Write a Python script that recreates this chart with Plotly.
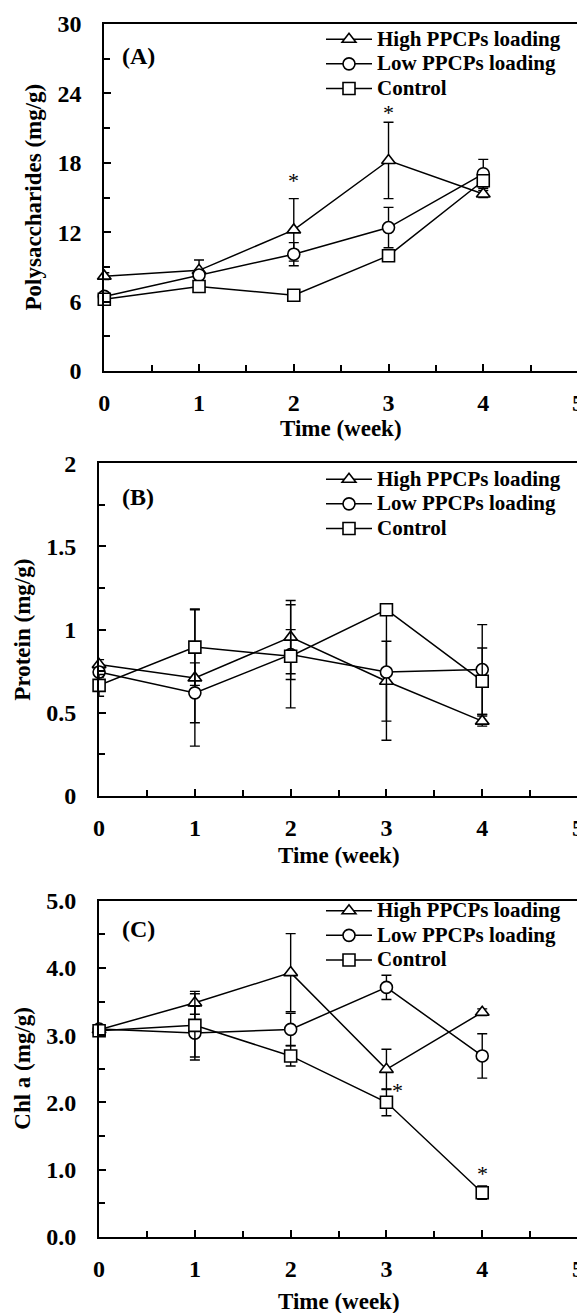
import plotly.graph_objects as go

# ---------------- data ----------------
weeks = [0, 1, 2, 3, 4]
series_names = ["High PPCPs loading", "Low PPCPs loading", "Control"]
series_symbols = ["triangle-up", "circle", "square"]

# (A) Polysaccharides (mg/g)
poly_high = [8.2, 8.7, 12.2, 18.2, 15.3]
poly_high_err = [0.3, 0.9, 2.7, 3.3, 0.3]
poly_low = [6.45, 8.3, 10.1, 12.4, 17.05]
poly_low_err = [0.3, 0.4, 1.0, 1.75, 1.25]
poly_ctrl = [6.2, 7.3, 6.55, 9.97, 16.45]
poly_ctrl_err = [0.3, 0.3, 0.3, 0.4, 0.5]
poly_star_x = [2, 3]
poly_star_y = [16.8, 22.7]

# (B) Protein (mg/g)
prot_high = [0.79, 0.71, 0.955, 0.69, 0.45]
prot_high_err = [0.03, 0.41, 0.22, 0.24, 0.03]
prot_low = [0.745, 0.62, 0.85, 0.745, 0.76]
prot_low_err = [0.03, 0.18, 0.15, 0.41, 0.27]
prot_ctrl = [0.665, 0.895, 0.84, 1.12, 0.69]
prot_ctrl_err = [0.065, 0.23, 0.31, 0.03, 0.2]

# (C) Chl a (mg/g)
chl_high = [3.08, 3.48, 3.93, 2.49, 3.34]
chl_high_err = [0.05, 0.17, 0.58, 0.3, 0.05]
chl_low = [3.09, 3.03, 3.085, 3.71, 2.69]
chl_low_err = [0.05, 0.40, 0.24, 0.18, 0.33]
chl_ctrl = [3.065, 3.145, 2.69, 2.0, 0.655]
chl_ctrl_err = [0.05, 0.47, 0.15, 0.2, 0.1]
chl_star_x = [3.12, 4]
chl_star_y = [2.23, 1.0]

x_ticks = [0, 1, 2, 3, 4, 5]
poly_ticks = [0, 6, 12, 18, 24, 30]
prot_ticks = [0, 0.5, 1, 1.5, 2]
prot_tick_text = ["0", "0.5", "1", "1.5", "2"]
chl_ticks = [0, 1, 2, 3, 4, 5]
chl_tick_text = ["0.0", "1.0", "2.0", "3.0", "4.0", "5.0"]

# ---------------- layout helpers ----------------
# the page body has an 8px margin, so the figure starts at (8, 8) in the window
OFF = 8
W, H = 585 - OFF, 1313 - OFF
FONT = "Liberation Serif, Times New Roman, serif"

def px_x(p):
    return (p - OFF) / W

def px_y(p):
    return 1 - (p - OFF) / H

panels = [
    dict(name="A", ylabel="Polysaccharides (mg/g)", yr=[0, 30], yt=poly_ticks,
         ytt=[str(v) for v in poly_ticks], ydtick_minor=3,
         vals=[poly_high, poly_low, poly_ctrl], errs=[poly_high_err, poly_low_err, poly_ctrl_err],
         left=104.3, right=578, top=24, bottom=371,
         stars=(poly_star_x, poly_star_y), ylab_x=33, xlab_y=428, leg_top=22, lab_y=56),
    dict(name="B", ylabel="Protein (mg/g)", yr=[0, 2], yt=prot_ticks,
         ytt=prot_tick_text, ydtick_minor=0.25,
         vals=[prot_high, prot_low, prot_ctrl], errs=[prot_high_err, prot_low_err, prot_ctrl_err],
         left=99.1, right=578, top=463.3, bottom=796,
         stars=([], []), ylab_x=23, xlab_y=855, leg_top=462, lab_y=497),
    dict(name="C", ylabel="Chl a (mg/g)", yr=[0, 5], yt=chl_ticks,
         ytt=chl_tick_text, ydtick_minor=0.5,
         vals=[chl_high, chl_low, chl_ctrl], errs=[chl_high_err, chl_low_err, chl_ctrl_err],
         left=99.1, right=578, top=900.7, bottom=1236.7,
         stars=(chl_star_x, chl_star_y), ylab_x=23, xlab_y=1301, leg_top=893.5, lab_y=929),
]

fig = go.Figure()
annotations = []
layout_updates = {}

for i, p in enumerate(panels):
    n = i + 1
    xa = "x" if n == 1 else f"x{n}"
    ya = "y" if n == 1 else f"y{n}"
    leg = "legend" if n == 1 else f"legend{n}"
    for k in range(3):
        fig.add_trace(go.Scatter(
            x=weeks, y=p["vals"][k],
            name=f"<span style='font-size:21px'>{series_names[k]}</span>",
            xaxis=xa, yaxis=ya, legend=leg,
            mode="lines+markers",
            line=dict(color="black", width=1.5),
            marker=dict(symbol=series_symbols[k], size=12, color="white",
                        line=dict(color="black", width=1.6)),
            error_y=dict(type="data", array=p["errs"][k], visible=True,
                         color="black", thickness=1.4, width=5),
            cliponaxis=False,
        ))
    xdom = [px_x(p["left"]), px_x(p["right"])]
    ydom = [px_y(p["bottom"]), px_y(p["top"])]
    axis_common = dict(showline=True, linecolor="black", linewidth=2, mirror=True,
                       ticks="inside", ticklen=7, tickwidth=2, tickcolor="black",
                       showgrid=False, zeroline=False, automargin=False,
                       ticklabeloverflow="allow",
                       tickfont=dict(family=FONT, size=24, color="black", weight="bold"))
    layout_updates["xaxis" if n == 1 else f"xaxis{n}"] = dict(
        axis_common, domain=xdom, range=[0, 5], tickvals=x_ticks,
        anchor=ya, ticklabelstandoff=9,
        minor=dict(ticks="inside", dtick=0.5, ticklen=6, tickwidth=2, tickcolor="black"))
    layout_updates["yaxis" if n == 1 else f"yaxis{n}"] = dict(
        axis_common, domain=ydom, range=p["yr"], tickvals=p["yt"], ticktext=p["ytt"],
        anchor=xa, ticklabelstandoff=16,
        minor=dict(ticks="inside", dtick=p["ydtick_minor"], ticklen=6, tickwidth=2, tickcolor="black"))
    layout_updates[leg] = dict(
        x=px_x(321), y=px_y(p["leg_top"]), xanchor="left", yanchor="top",
        bgcolor="rgba(0,0,0,0)", borderwidth=0, itemwidth=46,
        font=dict(family=FONT, size=16.6, color="black", weight="bold"),
        tracegroupgap=0)
    # axis titles
    annotations.append(dict(text=p["ylabel"], xref="paper", yref="paper",
                            x=px_x(p["ylab_x"]), y=px_y((p["top"] + p["bottom"]) / 2),
                            xanchor="center", yanchor="middle", textangle=-90, showarrow=False,
                            font=dict(family=FONT, size=23, color="black", weight="bold")))
    annotations.append(dict(text="Time (week)", xref="paper", yref="paper",
                            x=px_x((p["left"] + p["right"]) / 2), y=px_y(p["xlab_y"]),
                            xanchor="center", yanchor="middle", showarrow=False,
                            font=dict(family=FONT, size=23, color="black", weight="bold")))
    # panel label
    annotations.append(dict(text=f"({p['name']})", xref="paper", yref="paper",
                            x=px_x(120), y=px_y(p["lab_y"]),
                            xanchor="left", yanchor="middle", showarrow=False,
                            font=dict(family=FONT, size=24, color="black", weight="bold")))
    # significance asterisks
    for sx, sy in zip(*p["stars"]):
        annotations.append(dict(text="*", xref=xa, yref=ya, x=sx, y=sy,
                                xanchor="center", yanchor="middle", showarrow=False, yshift=-4,
                                font=dict(family=FONT, size=22, color="black")))

fig.update_layout(
    width=W, height=H, margin=dict(l=0, r=0, t=0, b=0, autoexpand=False),
    paper_bgcolor="white", plot_bgcolor="white",
    showlegend=True, annotations=annotations, **layout_updates)

fig.write_html("out.html")
